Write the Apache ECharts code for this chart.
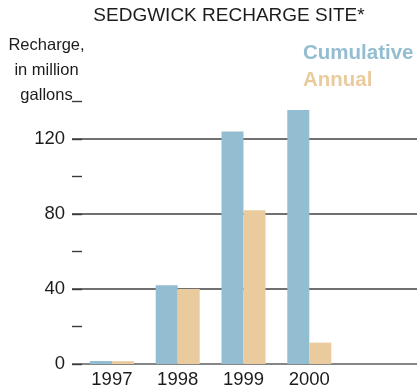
<!DOCTYPE html>
<html>
<head>
<meta charset="utf-8">
<script src="https://cdn.jsdelivr.net/npm/echarts@6/dist/echarts.min.js"></script>
<style>
  html, body { margin: 0; padding: 0; background: #fff; }
  #chart { width: 417px; height: 391px; }
</style>
</head>
<body>
<div id="chart"></div>
<script>
// Sedgwick recharge site: recharge in million gallons by year
const years = ['1997', '1998', '1999', '2000'];
const cumulative = [1.6, 42, 124, 135.5];
const annual = [1.5, 40, 82, 11.4];
const yTickValues = [0, 40, 80, 120];

const FONT = '"Liberation Sans", Arial, sans-serif';
const BLUE = '#93bdd0';
const TAN = '#eacb9e';
const INK = '#1c1c1c';

const chart = echarts.init(document.getElementById('chart'), null, { renderer: 'canvas' });

// Pad the category list with one empty slot so the bar groups keep their spacing
const categories = years.concat(['']);

chart.setOption({
  animation: false,
  backgroundColor: '#fff',
  graphic: [
    {
      type: 'text', x: 229, y: 16,
      style: { text: 'SEDGWICK RECHARGE SITE*', fill: INK, font: '19px ' + FONT, textAlign: 'center', verticalAlign: 'middle' }
    },
    {
      type: 'text', x: 46.5, y: 33,
      style: { text: 'Recharge,\nin million\ngallons', fill: INK, font: '16.5px ' + FONT, lineHeight: 25, textAlign: 'center', verticalAlign: 'top' }
    }
  ],
  legend: {
    orient: 'vertical',
    left: 298,
    top: 42.5,
    icon: 'none',
    itemWidth: 0,
    itemHeight: 14,
    itemGap: 6.6,
    padding: 0,
    selectedMode: false,
    textStyle: { fontFamily: FONT, fontSize: 20.5, fontWeight: 'bold', lineHeight: 20, padding: 0 },
    data: [
      { name: 'Cumulative', textStyle: { color: BLUE } },
      { name: 'Annual', textStyle: { color: TAN } }
    ]
  },
  grid: [
    // grid 0: horizontal rules, value labels and minor dashes
    { left: 72, right: 0, top: 101.5, bottom: 27, containLabel: false },
    // grid 1: the bars
    { left: 79, width: 329, top: 101.5, bottom: 27, containLabel: false }
  ],
  xAxis: [
    { gridIndex: 0, type: 'value', min: 0, max: 1, show: false },
    {
      gridIndex: 1, type: 'category', data: categories,
      axisLine: { show: false }, axisTick: { show: false },
      axisLabel: { fontFamily: FONT, fontSize: 18.5, color: INK, margin: 6 }
    }
  ],
  yAxis: [
    {
      gridIndex: 0, type: 'value', min: 0, max: 140, interval: 20,
      axisLine: { show: false },
      axisTick: { show: true, inside: true, length: 10, lineStyle: { color: '#3a3a3a', width: 1.4 } },
      axisLabel: {
        fontFamily: FONT, fontSize: 18.5, color: INK, margin: 7,
        formatter: v => (yTickValues.indexOf(v) >= 0 ? String(v) : '')
      },
      splitLine: {
        show: true,
        lineStyle: {
          width: 1.5,
          color: ['#5e5e5e', 'transparent', '#404040', 'transparent', '#404040', 'transparent', '#404040', 'transparent']
        }
      }
    },
    { gridIndex: 1, type: 'value', min: 0, max: 140, show: false }
  ],
  series: [
    {
      name: 'Cumulative', type: 'bar', xAxisIndex: 1, yAxisIndex: 1,
      data: cumulative, barWidth: 22, barGap: '0%',
      itemStyle: { color: BLUE }, z: 3
    },
    {
      name: 'Annual', type: 'bar', xAxisIndex: 1, yAxisIndex: 1,
      data: annual, barWidth: 22, barGap: '0%',
      itemStyle: { color: TAN }, z: 3
    }
  ]
});
</script>
</body>
</html>
